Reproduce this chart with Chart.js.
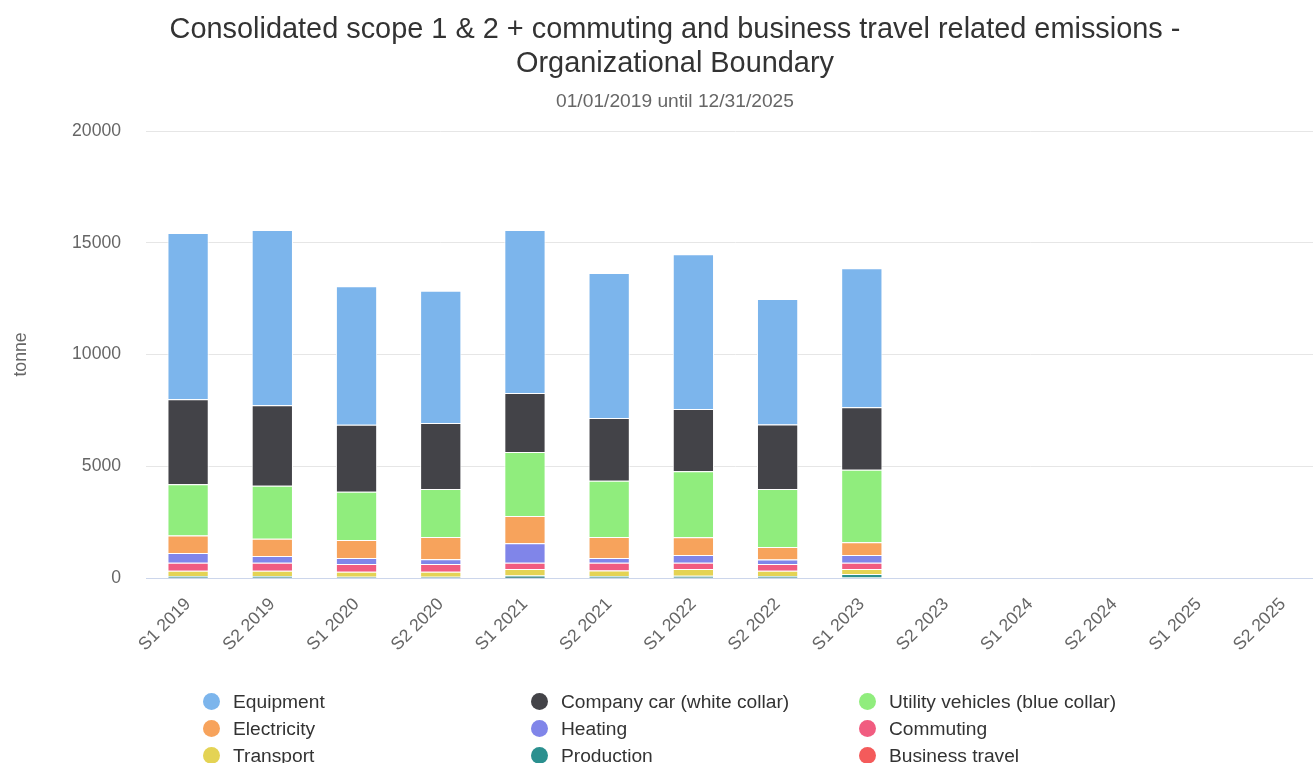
<!DOCTYPE html>
<html>
<head>
<meta charset="utf-8">
<title>Emissions</title>
<script src="https://cdn.jsdelivr.net/npm/chart.js@4"></script>
<style>
    body {
        margin: 0;
        overflow: hidden;
        background: #fff;
        font-family: "Liberation Sans", Arial, sans-serif;
    }
    .wrap {
        position: relative;
        width: 1313px;
        height: 763px;
        overflow: hidden;
    }
    #myChart {
        position: absolute;
        left: 0;
        top: 0;
    }
    .title {
        position: absolute;
        left: 75px;
        width: 1200px;
        top: 11px;
        text-align: center;
        white-space: nowrap;
        font-size: 28.9px;
        line-height: 34px;
        color: #333;
    }
    .subtitle {
        position: absolute;
        left: 375px;
        width: 600px;
        top: 89px;
        text-align: center;
        white-space: nowrap;
        font-size: 19.2px;
        line-height: 24px;
        color: #666;
    }
    .legend {
        position: absolute;
        left: 203px;
        top: 688px;
        display: grid;
        grid-template-columns: 328px 328px 328px;
    }
    .legend-item {
        height: 27px;
        display: flex;
        align-items: center;
        white-space: nowrap;
        font-size: 19.2px;
        color: #333;
    }
    .legend-dot {
        width: 17px;
        height: 17px;
        border-radius: 50%;
        margin-right: 13px;
    }
</style>
</head>
<body>
<div class="wrap">
    <!-- plot runs a little past the right edge of the frame -->
    <canvas id="myChart" width="1325" height="763"></canvas>
    <div class="title">Consolidated scope 1 &amp; 2 + commuting and business travel related emissions -<br>Organizational Boundary</div>
    <div class="subtitle">01/01/2019 until 12/31/2025</div>
    <div class="legend" id="legend"></div>
</div>
<script>
// half-year periods
var periods = ["S1 2019", "S2 2019", "S1 2020", "S2 2020", "S1 2021", "S2 2021", "S1 2022",
    "S2 2022", "S1 2023", "S2 2023", "S1 2024", "S2 2024", "S1 2025", "S2 2025"];

// tonnes per source, no data after S1 2023
var equipment = [7440, 7840, 6200, 5920, 7290, 6490, 6920, 5620, 6210, null, null, null, null, null];
var companyCar = [3800, 3600, 3000, 2950, 2640, 2800, 2790, 2880, 2800, null, null, null, null, null];
var utilityVehicles = [2300, 2370, 2160, 2150, 2860, 2520, 2950, 2600, 3240, null, null, null, null, null];
var electricity = [780, 770, 800, 1000, 1220, 940, 800, 560, 580, null, null, null, null, null];
var heating = [435, 300, 270, 210, 870, 210, 345, 200, 345, null, null, null, null, null];
var commuting = [360, 360, 350, 350, 280, 350, 280, 300, 280, null, null, null, null, null];
var transport = [230, 230, 220, 220, 290, 240, 300, 230, 225, null, null, null, null, null];
var production = [80, 80, 40, 40, 110, 80, 85, 80, 150, null, null, null, null, null];
var businessTravel = [15, 15, 15, 15, 5, 15, 15, 15, 25, null, null, null, null, null];

var yTicks = [0, 5000, 10000, 15000, 20000];

var seriesNames = ["Equipment", "Company car (white collar)", "Utility vehicles (blue collar)",
    "Electricity", "Heating", "Commuting", "Transport", "Production", "Business travel"];
var seriesData = [equipment, companyCar, utilityVehicles, electricity, heating,
    commuting, transport, production, businessTravel];
var seriesColors = ["#7cb5ec", "#434348", "#90ed7d", "#f7a35c", "#8085e9",
    "#f15c80", "#e4d354", "#2b908f", "#f45b5b"];

// first series sits on top of the stack, so feed them in reverse
var datasets = [];
for (var i = seriesNames.length - 1; i >= 0; i--) {
    datasets.push({
        label: seriesNames[i],
        data: seriesData[i],
        backgroundColor: seriesColors[i],
        borderColor: "#ffffff",
        borderWidth: { top: 1, left: 1, right: 1, bottom: 0 },
        borderSkipped: false,
        barPercentage: 0.49,
        categoryPercentage: 1
    });
}

// legend, three columns
var legendBox = document.getElementById("legend");
seriesNames.forEach(function(name, i) {
    var item = document.createElement("div");
    item.className = "legend-item";
    var dot = document.createElement("span");
    dot.className = "legend-dot";
    dot.style.background = seriesColors[i];
    item.appendChild(dot);
    item.appendChild(document.createTextNode(name));
    legendBox.appendChild(item);
});

// stacked bar chart
const ctx = document.getElementById("myChart").getContext("2d");
const myChart = new Chart(ctx, {
    type: "bar",
    data: {
        labels: periods,
        datasets: datasets
    },
    options: {
        responsive: false,
        animation: false,
        layout: {
            padding: { top: 131, left: 0, right: 0, bottom: 0 }
        },
        plugins: {
            legend: { display: false },
            title: { display: false }
        },
        scales: {
            x: {
                stacked: true,
                grid: { display: false },
                border: { color: "#ccd6eb" },
                ticks: {
                    color: "#666666",
                    font: { family: "Liberation Sans", size: 17.6 },
                    minRotation: 45,
                    maxRotation: 45,
                    autoSkip: false,
                    padding: 8
                },
                afterFit: function(scale) {
                    scale.height = 185;
                }
            },
            y: {
                stacked: true,
                min: 0,
                max: 20000,
                afterBuildTicks: function(scale) {
                    scale.ticks = yTicks.map(function(v) { return { value: v }; });
                },
                grid: { color: "#e6e6e6", drawTicks: false },
                border: { display: false },
                ticks: {
                    color: "#666666",
                    font: { family: "Liberation Sans", size: 17.6 },
                    padding: 25,
                    callback: function(value) {
                        return String(value);
                    }
                },
                title: {
                    display: true,
                    text: "tonne",
                    color: "#666666",
                    font: { family: "Liberation Sans", size: 17.6 },
                    padding: { top: 11, bottom: 0 }
                },
                afterFit: function(scale) {
                    scale.width = 146;
                }
            }
        }
    }
});
</script>
</body>
</html>
